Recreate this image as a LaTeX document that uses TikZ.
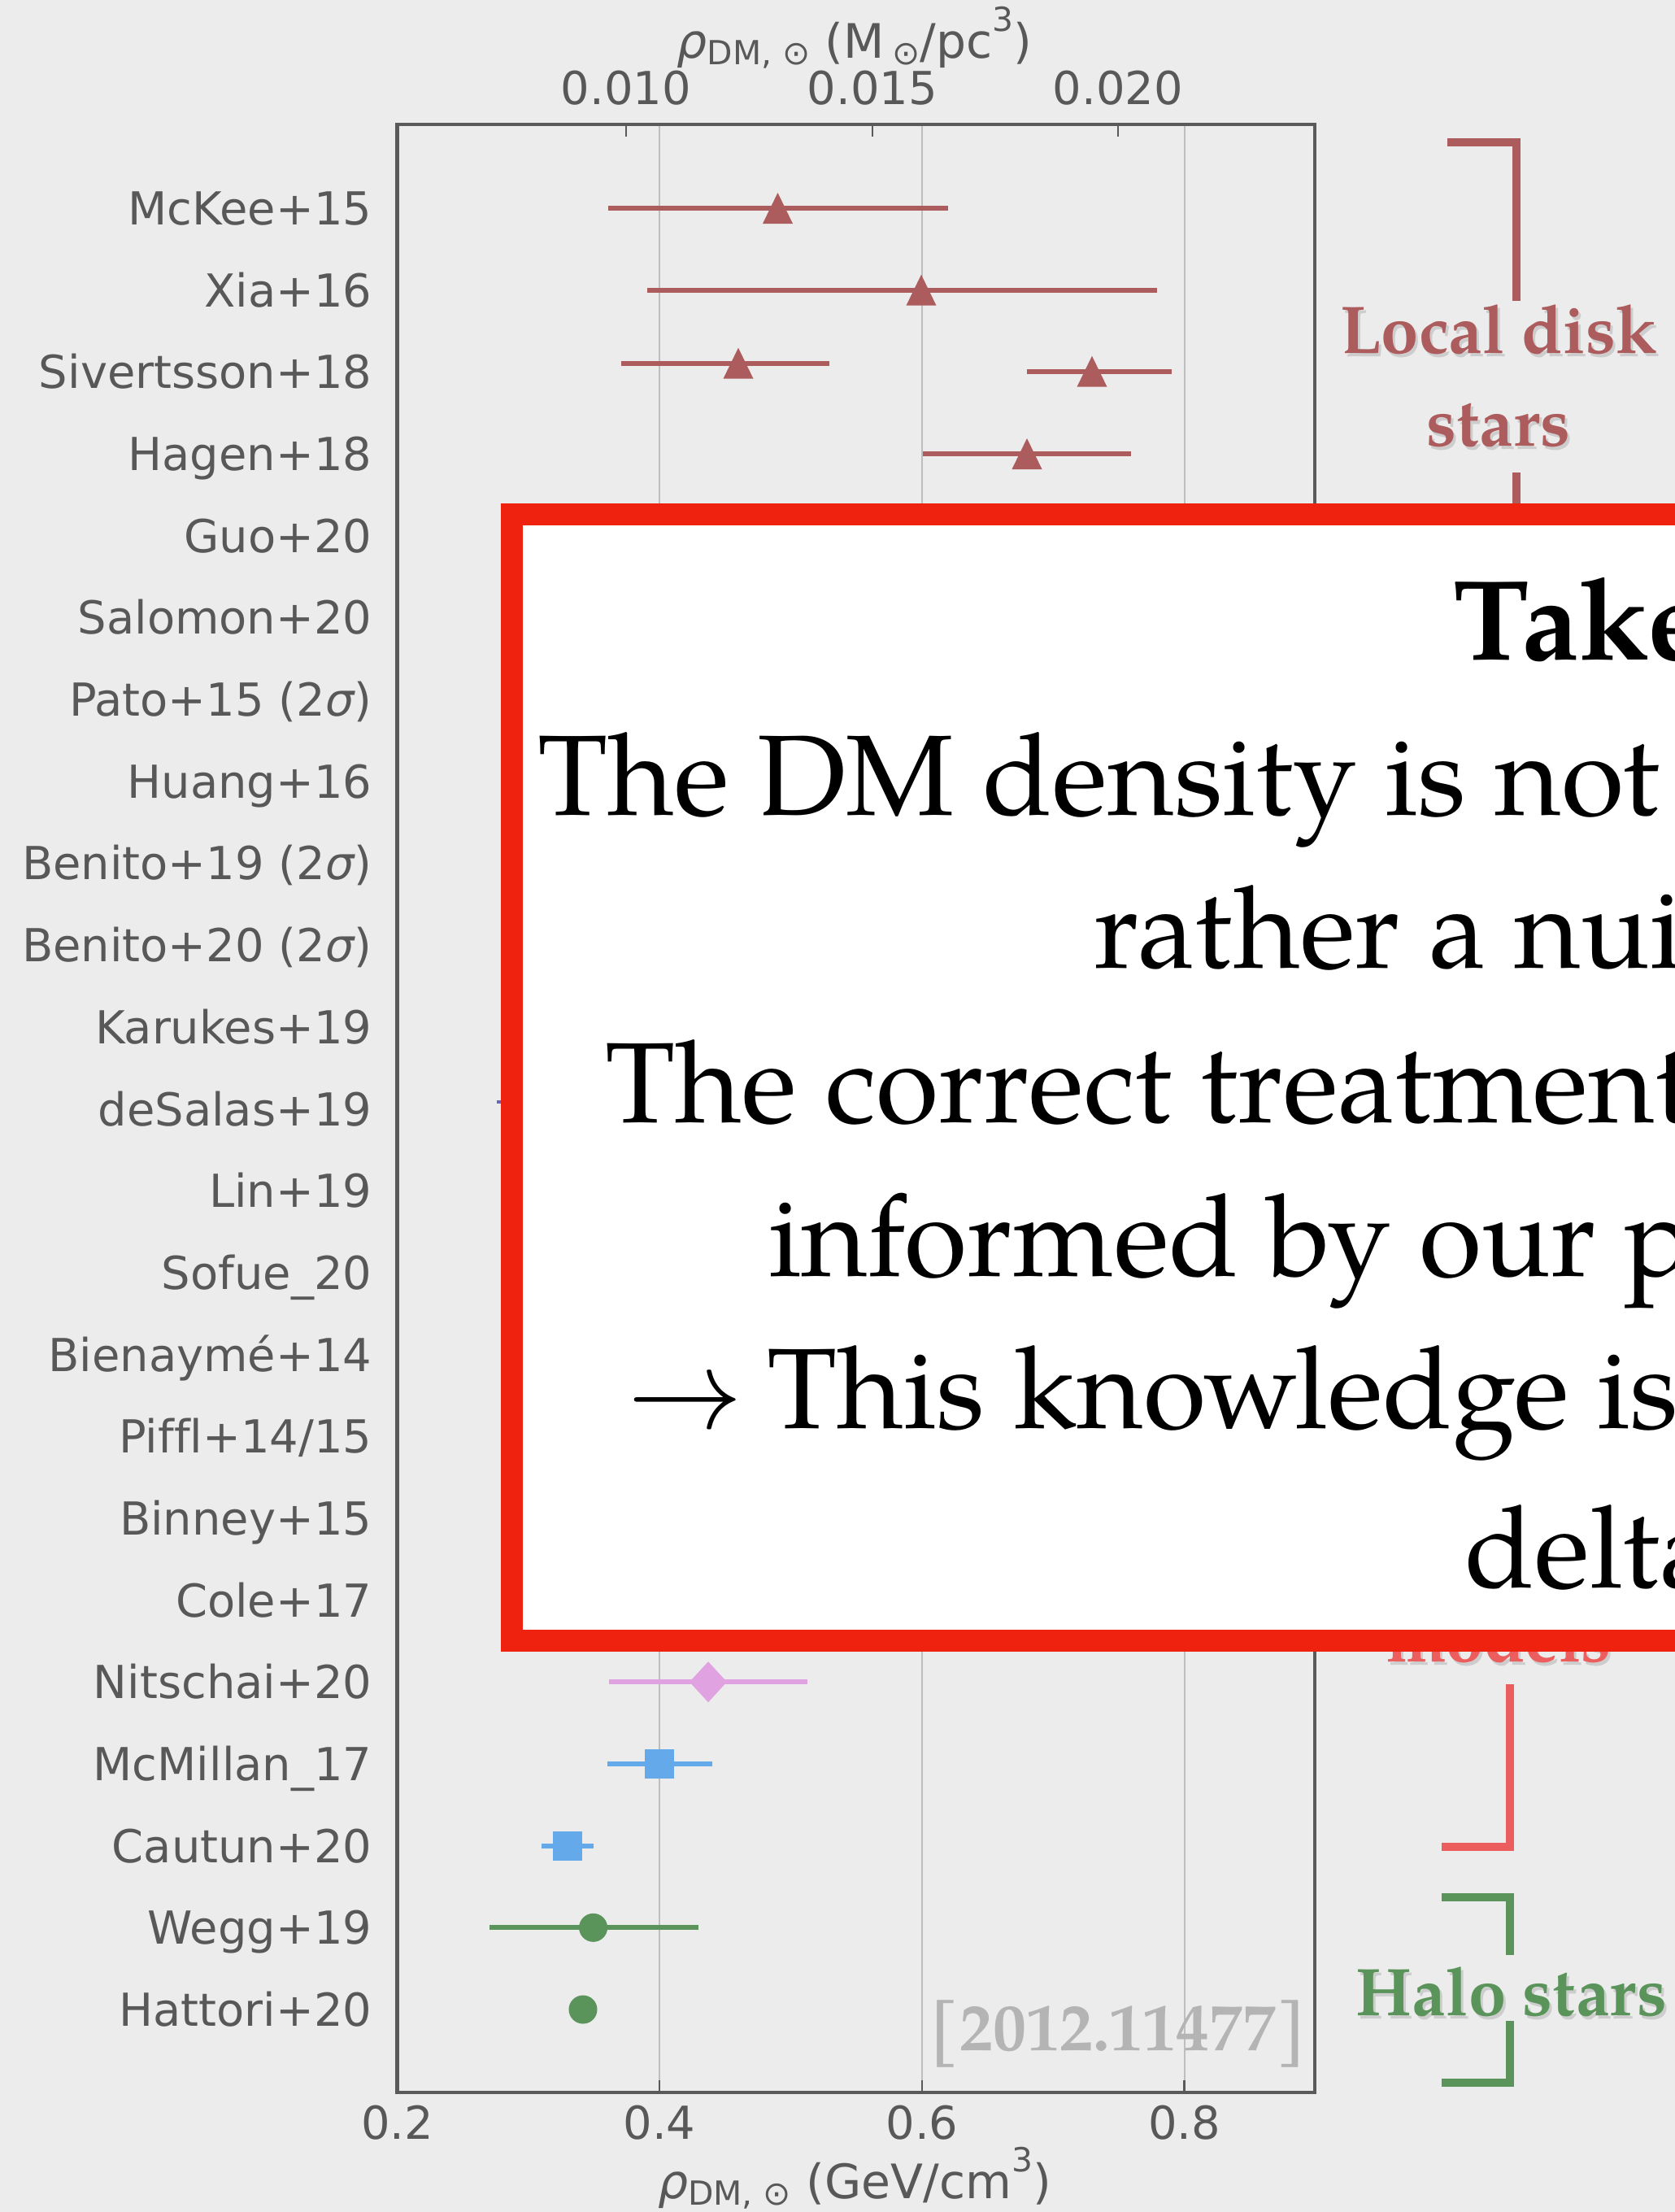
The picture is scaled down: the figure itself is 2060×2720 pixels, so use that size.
\RequirePackage{fix-cm}
\documentclass[tikz,border=0pt]{standalone}
\usepackage{fontspec}
\newfontfamily\dvs{DejaVu Sans}[Ligatures=CommonOff]
\newfontfamily\pal{texgyrepagella}[Extension=.otf,UprightFont=*-regular,BoldFont=*-bold,ItalicFont=*-italic,BoldItalicFont=*-bolditalic]
\definecolor{bg}{RGB}{236,236,236}
\definecolor{axc}{RGB}{90,90,90}
\definecolor{axgray}{RGB}{88,88,88}
\definecolor{gridc}{RGB}{190,190,190}
\definecolor{diskc}{RGB}{172,92,92}
\definecolor{modc}{RGB}{236,94,94}
\definecolor{haloc}{RGB}{90,148,90}
\definecolor{plumc}{RGB}{224,162,224}
\definecolor{bluec}{RGB}{100,170,235}
\definecolor{slatec}{RGB}{100,105,190}
\definecolor{refc}{RGB}{180,180,180}
\definecolor{boxc}{RGB}{238,34,14}
\newcommand{\markTri}[3]{\fill[#3] (#1,#2-19) -- (#1+18.5,#2+19) -- (#1-18.5,#2+19) -- cycle;}
\newcommand{\markSq}[3]{\fill[#3] (#1-18,#2-18) rectangle (#1+18,#2+18);}
\newcommand{\markDia}[3]{\fill[#3] (#1,#2-25) -- (#1+23,#2) -- (#1,#2+25) -- (#1-23,#2) -- cycle;}
\newcommand{\markDot}[3]{\fill[#3] (#1,#2) circle (0.175cm);}
\newcommand{\subsz}{\fontsize{11.6}{13}\selectfont}
\newcommand{\rhoDM}{{\itshape ρ}\raisebox{-0.14em}{\subsz DM, ⊙}}
\begin{document}
\begin{tikzpicture}[x=0.01cm,y=-0.01cm,
  lab/.style={font=\dvs\fontsize{15.9}{18}\selectfont, text=axgray, inner sep=0pt},
  ttl/.style={font=\dvs\fontsize{16.6}{19}\selectfont, text=axgray, inner sep=0pt, anchor=base},
  seriflab/.style={font=\pal\bfseries\fontsize{23.6}{27}\selectfont, inner sep=0pt, anchor=base},
  shadowlab/.style={seriflab, text=black, text opacity=0.13},
  boxtext/.style={font=\pal\fontsize{40}{47}\selectfont, inner sep=0pt, anchor=base west},
  ebar/.style={line width=1.7pt},
  brk/.style={line width=2.85pt, miter limit=10}
]
\useasboundingbox (0,0) rectangle (2060,2720);
\clip (0,0) rectangle (2060,2720);
\fill[bg] (0,0) rectangle (2060,2720);

% grid lines
\foreach \gx in {811,1134,1456.5} \draw[gridc, line width=0.57pt] (\gx,153) -- (\gx,2572.5);

% frame
\draw[axc, line width=1.14pt] (488.5,153) rectangle (1616.5,2572.5);

% ticks
\foreach \tx in {770,1073,1375} \draw[axc, line width=0.7pt] (\tx,153) -- (\tx,168);
\foreach \tx in {811,1134,1456.5} \draw[axc, line width=0.7pt] (\tx,2572.5) -- (\tx,2558);

% tick labels
\node[lab, anchor=base] (tt1) at (770,128) {0.010};
\node[lab, anchor=base] (tt2) at (1073,128) {0.015};
\node[lab, anchor=base] (tt3) at (1375,128) {0.020};
\node[lab, anchor=base] (bt1) at (488.5,2630) {0.2};
\node[lab, anchor=base] (bt2) at (811,2630) {0.4};
\node[lab, anchor=base] (bt3) at (1134,2630) {0.6};
\node[lab, anchor=base] (bt4) at (1456.5,2630) {0.8};

% axis titles
\node[ttl] (toptitle) at (1051,71) {\rhoDM\ (M\,\raisebox{-0.14em}{\subsz ⊙}/pc\raisebox{0.55em}{\subsz 3})};
\node[ttl] (bottitle) at (1051,2703) {\rhoDM\ (GeV/cm\raisebox{0.55em}{\subsz 3})};

% row labels
\foreach \i/\t in {1/McKee+15, 2/Xia+16, 3/Sivertsson+18, 4/Hagen+18, 5/Guo+20, 6/Salomon+20,
  7/{Pato+15 (2{\itshape σ})}, 8/Huang+16, 9/{Benito+19 (2{\itshape σ})}, 10/{Benito+20 (2{\itshape σ})},
  11/Karukes+19, 12/deSalas+19, 13/Lin+19, 14/Sofue\_20, 15/Bienaymé+14, 16/{Piffl+14/15},
  17/Binney+15, 18/Cole+17, 19/Nitschai+20, 20/McMillan\_17, 21/Cautun+20, 22/Wegg+19, 23/Hattori+20} {
  \pgfmathsetmacro\yy{256+(\i-1)*100.68+20.5}
  \node[lab, anchor=base east] (row\i) at (458,\yy) {\t};
}

% data: local disk stars
\draw[diskc, ebar] (747.6,256) -- (1165.5,256);
\markTri{956.5}{256}{diskc}
\draw[diskc, ebar] (796,356.7) -- (1423,356.7);
\markTri{1133}{356.7}{diskc}
\draw[diskc, ebar] (763.7,446.7) -- (1020,446.7);
\markTri{908}{446.7}{diskc}
\draw[diskc, ebar] (1263,456.7) -- (1440.5,456.7);
\markTri{1343}{456.7}{diskc}
\draw[diskc, ebar] (1135,558) -- (1391,558);
\markTri{1263}{558}{diskc}
% deSalas visible tip
\draw[slatec, line width=1.2pt] (611,1355) -- (630,1355);
% lower data
\draw[plumc, ebar] (749,2068.2) -- (993.4,2068.2);
\markDia{871}{2068.2}{plumc}
\draw[bluec, ebar] (747,2169) -- (875.5,2169);
\markSq{811}{2169}{bluec}
\draw[bluec, ebar] (666,2269.6) -- (729.6,2269.6);
\markSq{698}{2269.6}{bluec}
\draw[haloc, ebar] (602,2370.3) -- (859,2370.3);
\markDot{729.6}{2370.3}{haloc}
\markDot{717}{2471}{haloc}

% reference tag
\node[seriflab, text=refc, font=\pal\bfseries\fontsize{23.3}{27}\selectfont] (ref) at (1375,2521.7) {[2012.11477]};

% group labels with soft shadow
\node[shadowlab] (ld1s) at (1846,438.8) {Local disk};
\node[seriflab, text=diskc] (ld1) at (1843,434.8) {Local disk};
\node[shadowlab] (ld2s) at (1846,552.7) {stars};
\node[seriflab, text=diskc] (ld2) at (1843,548.7) {stars};
\node[shadowlab] (mods) at (1846.5,2047) {models};
\node[seriflab, text=modc] (mod) at (1843.5,2043) {models};
\node[shadowlab] (halos) at (1862,2482) {Halo stars};
\node[seriflab, text=haloc] (halo) at (1859,2478) {Halo stars};

% brackets
\draw[brk, diskc] (1780,174.5) -- (1865,174.5) -- (1865,370);
\draw[brk, diskc] (1865,581) -- (1865,640);
\draw[brk, modc] (1773,2271) -- (1857,2271) -- (1857,2071);
\draw[brk, haloc] (1773,2333) -- (1857,2333) -- (1857,2404);
\draw[brk, haloc] (1857,2485) -- (1857,2561) -- (1773,2561);

% take-away box
\draw[boxc, fill=white, line width=7.6pt] (629.5,632.7) rectangle (2300,2017.3);
\node[boxtext, font=\pal\bfseries\fontsize{40}{47}\selectfont] (l0) at (1787,811) {Take};
\node[boxtext] (l1) at (660.5,1002) {The DM density is not};
\node[boxtext] (l2) at (1345,1190) {rather a nui};
\node[boxtext] (l3) at (744,1380) {The correct treatment};
\node[boxtext] (l4) at (944.5,1569.5) {informed by our p};
\node[boxtext] (l5a) at (772,1756) {$\rightarrow$};
\node[boxtext] (l5) at (942.6,1756) {This knowledge is};
\node[boxtext] (l6) at (1801,1952.5) {delta};
\end{tikzpicture}
\end{document}
